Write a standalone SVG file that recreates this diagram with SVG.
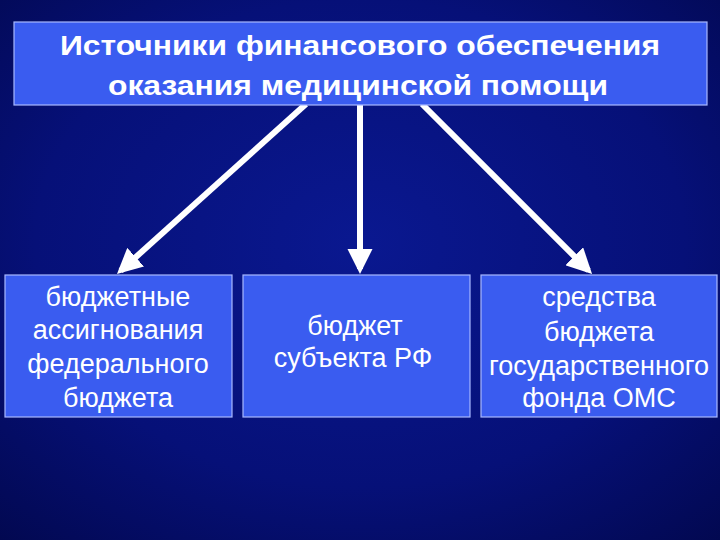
<svg xmlns="http://www.w3.org/2000/svg" width="720" height="540" viewBox="0 0 720 540">
<defs>
<radialGradient id="bg" cx="50%" cy="45%" r="75%">
<stop offset="0" stop-color="#0a1890"/>
<stop offset="0.6" stop-color="#061078"/>
<stop offset="1" stop-color="#020850"/>
</radialGradient>
<marker id="ah" viewBox="0 0 10 10" refX="8" refY="5" markerWidth="4.2" markerHeight="4.2" markerUnits="strokeWidth" orient="auto">
<path d="M0,0 L10,5 L0,10 z" fill="#ffffff"/>
</marker>
<style>
.box{fill:#3a5cf0;stroke:#a8b8ff;stroke-width:1.2}
.t{font-family:"Liberation Sans",Arial,sans-serif;fill:#ffffff;text-anchor:middle}
.title{font-weight:bold;font-size:28px}
.lbl{font-size:27px}
.conn{stroke:#ffffff;stroke-width:6;fill:none;marker-end:url(#ah)}
</style>
</defs>
<rect width="720" height="540" fill="url(#bg)"/>
<g id="connectors">
<line class="conn" x1="306" y1="104" x2="120.7" y2="270.7"/>
<line class="conn" x1="360" y1="105" x2="360" y2="269"/>
<line class="conn" x1="422" y1="104" x2="588.5" y2="270.5"/>
</g>
<g id="title">
<rect class="box" x="14" y="22" width="693" height="83"/>
<text class="t title" x="360" y="55" textLength="600" lengthAdjust="spacingAndGlyphs">Источники финансового обеспечения</text>
<text class="t title" x="358" y="95" textLength="500" lengthAdjust="spacingAndGlyphs">оказания медицинской помощи</text>
</g>
<g id="node-federal">
<rect class="box" x="5" y="275" width="227" height="142"/>
<text class="t lbl" x="118" y="306">бюджетные</text>
<text class="t lbl" x="118" y="339">ассигнования</text>
<text class="t lbl" x="118" y="373">федерального</text>
<text class="t lbl" x="118" y="407">бюджета</text>
</g>
<g id="node-subject">
<rect class="box" x="243" y="275" width="227" height="142"/>
<text class="t lbl" x="355" y="335">бюджет</text>
<text class="t lbl" x="353" y="367">субъекта РФ</text>
</g>
<g id="node-oms">
<rect class="box" x="481" y="275" width="236" height="142"/>
<text class="t lbl" x="599" y="306">средства</text>
<text class="t lbl" x="599" y="341">бюджета</text>
<text class="t lbl" x="599" y="375">государственного</text>
<text class="t lbl" x="599" y="407">фонда ОМС</text>
</g>
</svg>
